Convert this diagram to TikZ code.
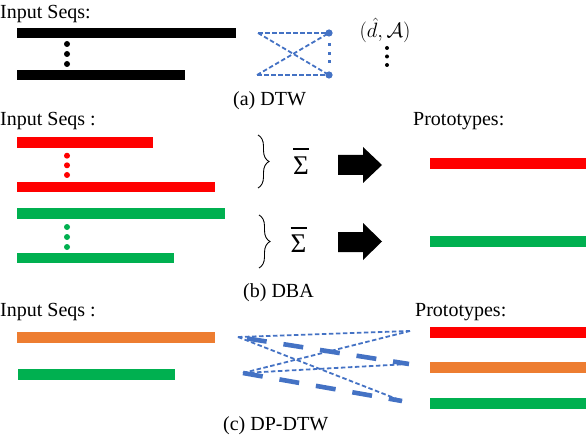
\documentclass[tikz,border=0pt]{standalone}
\usepackage{fontspec}
\setmainfont{Liberation Serif}
\usetikzlibrary{decorations.pathreplacing}
\definecolor{myred}{RGB}{255,0,0}
\definecolor{mygreen}{RGB}{0,176,80}
\definecolor{myorange}{RGB}{237,125,49}
\definecolor{myblue}{RGB}{68,114,196}
\begin{document}
\begin{tikzpicture}[x=1pt,y=-1pt,
  lbl/.style={font=\fontsize{20}{24}\selectfont, inner sep=0pt, anchor=base west},
  seqbar/.style={line width=10.5pt},
  thindash/.style={myblue, line width=1.8pt, dash pattern=on 4.5pt off 2.5pt},
  thickdash/.style={myblue, line width=4.6pt, dash pattern=on 20pt off 17pt},
  brc/.style={decorate, decoration={brace, amplitude=11pt}, line width=0.9pt},
  sig/.style={font=\fontsize{27}{30}\selectfont, inner sep=0pt, anchor=base}]
\useasboundingbox (0,0) rectangle (588,438);

% ---------- (a) DTW ----------
\node[lbl] (inA) at (0,19) {Input Seqs:};
\draw[seqbar, black] (17,33) -- (236,33);
\draw[seqbar, black] (17,75) -- (185,75);
\foreach \y in {44,54,64} \fill[black] (67,\y) circle[radius=3pt];

\coordinate (a1) at (258,33);
\coordinate (a2) at (329,33);
\coordinate (b1) at (257,75);
\coordinate (b2) at (329,75);
\draw[thindash] (a1) -- (a2);
\draw[thindash] (b1) -- (b2);
\draw[thindash] (a1) -- (b2);
\draw[thindash] (b1) -- (a2);
\fill[myblue] (a2) circle[radius=3.6pt];
\fill[myblue] (b2) circle[radius=3.6pt];
\foreach \y in {45,53.5,62} \fill[myblue] (327.5,\y-1.5) rectangle (330.5,\y+1.5);

\node[font=\fontsize{21}{24}\selectfont, inner sep=0pt, anchor=base] (dA) at (385,38) {$(\hat{d},\mathcal{A})$};
\foreach \y in {48,56.5,65} \fill[black] (387,\y) circle[radius=2pt];

\node[lbl] (capA) at (233,106) {(a) DTW};

% ---------- (b) DBA ----------
\node[lbl] (inB) at (0,126) {Input Seqs :};
\draw[seqbar, myred] (17,142.5) -- (153,142.5);
\draw[seqbar, myred] (17,187) -- (215,187);
\foreach \y in {155.7,165.3,175} \fill[myred] (67,\y) circle[radius=3pt];
\draw[seqbar, mygreen] (17,213.5) -- (225,213.5);
\draw[seqbar, mygreen] (17,258) -- (174,258);
\foreach \y in {227,237,247} \fill[mygreen] (67,\y) circle[radius=3pt];

\draw[brc] (258,135) -- (258,188);
\draw[brc] (259,215) -- (259,268);
\node[sig] (s1) at (301,175) {Σ};
\draw[line width=2.4pt] (293,149) -- (309,149);
\node[sig] (s2) at (298.5,252) {Σ};
\draw[line width=2.4pt] (290.5,228) -- (306.5,228);

\fill[black] (338,155) -- (363,155) -- (363,147) -- (382,165) -- (363,183) -- (363,175) -- (338,175) -- cycle;
\fill[black] (338,232) -- (363,232) -- (363,223) -- (382,241.5) -- (363,260) -- (363,252) -- (338,252) -- cycle;

\node[lbl] (prB) at (413,126) {Prototypes:};
\draw[seqbar, myred] (430,163.5) -- (586,163.5);
\draw[seqbar, mygreen] (430,241.5) -- (586,241.5);

\node[lbl] (capB) at (243,297) {(b) DBA};

% ---------- (c) DP-DTW ----------
\node[lbl] (inC) at (0,316) {Input Seqs :};
\draw[seqbar, myorange] (17,337.5) -- (215,337.5);
\draw[seqbar, mygreen] (18,374.5) -- (175,374.5);

\node[lbl] (prC) at (415,316) {Prototypes:};
\draw[seqbar, myred] (430,332.5) -- (586,332.5);
\draw[seqbar, myorange] (430,367.5) -- (586,367.5);
\draw[seqbar, mygreen] (430,403.5) -- (586,403.5);

\coordinate (L1) at (238,337);
\coordinate (L2) at (243,373);
\coordinate (R1) at (410,331);
\coordinate (R2) at (409,364);
\coordinate (R3) at (402,401);
\draw[thindash] (L1) -- (R1);
\draw[thindash] (L1) -- (R3);
\draw[thindash] (L2) -- (R1);
\draw[thindash] (L2) -- (R2);
\draw[thickdash, dash phase=28pt] (L1) -- (R2);
\draw[thickdash] (L2) -- (R3);

\node[lbl] (capC) at (223,430) {(c) DP-DTW};
\end{tikzpicture}
\end{document}
